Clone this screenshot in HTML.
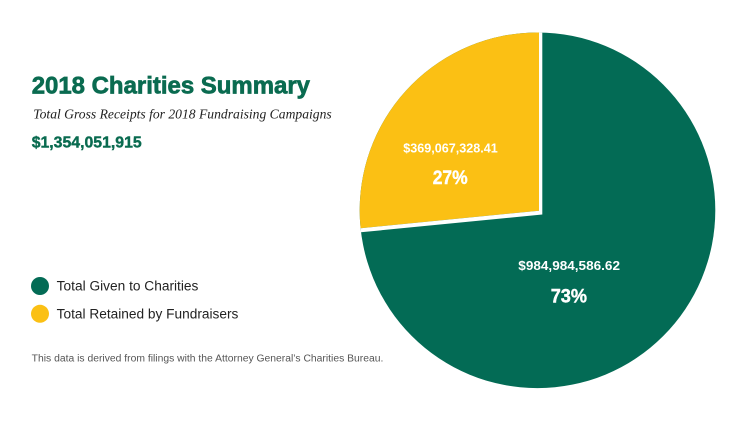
<!DOCTYPE html>
<html>
<head>
<meta charset="utf-8">
<style>
  html, body { margin: 0; padding: 0; background: #ffffff; }
  body { width: 738px; height: 421px; overflow: hidden; }
  svg { display: block; }
</style>
</head>
<body>
<svg width="738" height="421" viewBox="0 0 738 421" xmlns="http://www.w3.org/2000/svg">
  <defs>
    <clipPath id="pieclip">
      <circle cx="537.5" cy="210.3" r="177.8"/>
    </clipPath>
  </defs>
  <rect x="0" y="0" width="738" height="421" fill="#ffffff"/>

  <!-- Pie -->
  <circle cx="537.5" cy="210.3" r="177.8" fill="#036b55"/>
  <g clip-path="url(#pieclip)">
    <polygon points="539,0 539,210.7 340,230.3 340,0" fill="#fbc014"/>
    <polygon points="539,0 542.3,0 542.3,214.5 340,234.3 340,230.3 539,210.7" fill="#ffffff"/>
  </g>

  <!-- Pie labels -->
  <text x="403.3" y="152.3" textLength="94.4" lengthAdjust="spacingAndGlyphs" font-family="Liberation Sans, sans-serif" font-weight="700" font-size="12.5" fill="#ffffff">$369,067,328.41</text>
  <text x="432.7" y="184" textLength="35" lengthAdjust="spacingAndGlyphs" font-family="Liberation Sans, sans-serif" font-weight="700" font-size="19" fill="#ffffff" stroke="#ffffff" stroke-width="0.4">27%</text>
  <text x="518.3" y="270" textLength="101.7" lengthAdjust="spacingAndGlyphs" font-family="Liberation Sans, sans-serif" font-weight="700" font-size="13" fill="#ffffff">$984,984,586.62</text>
  <text x="550.7" y="302.3" textLength="36.3" lengthAdjust="spacingAndGlyphs" font-family="Liberation Sans, sans-serif" font-weight="700" font-size="19" fill="#ffffff" stroke="#ffffff" stroke-width="0.4">73%</text>

  <!-- Title block -->
  <text x="31.7" y="93.3" textLength="278.3" lengthAdjust="spacingAndGlyphs" font-family="Liberation Sans, sans-serif" font-weight="700" font-size="24" fill="#0a6b50" stroke="#0a6b50" stroke-width="0.7">2018 Charities Summary</text>
  <text x="33.3" y="118.3" textLength="298.4" lengthAdjust="spacingAndGlyphs" font-family="Liberation Serif, serif" font-style="italic" font-size="14" fill="#222222">Total Gross Receipts for 2018 Fundraising Campaigns</text>
  <text x="31.7" y="147.3" textLength="110" lengthAdjust="spacingAndGlyphs" font-family="Liberation Sans, sans-serif" font-weight="700" font-size="16" fill="#0a6b50" stroke="#0a6b50" stroke-width="0.4">$1,354,051,915</text>

  <!-- Legend -->
  <circle cx="40" cy="286" r="9" fill="#036b55"/>
  <text x="56.7" y="290.7" textLength="141.7" lengthAdjust="spacingAndGlyphs" font-family="Liberation Sans, sans-serif" font-size="13.5" fill="#222222">Total Given to Charities</text>
  <circle cx="40" cy="313.8" r="9" fill="#fbc014"/>
  <text x="56.7" y="318.3" textLength="181.7" lengthAdjust="spacingAndGlyphs" font-family="Liberation Sans, sans-serif" font-size="13.5" fill="#222222">Total Retained by Fundraisers</text>

  <!-- Footnote -->
  <text x="31.7" y="361.7" textLength="351.7" lengthAdjust="spacingAndGlyphs" font-family="Liberation Sans, sans-serif" font-size="10" fill="#555555">This data is derived from filings with the Attorney General’s Charities Bureau.</text>
</svg>
</body>
</html>
